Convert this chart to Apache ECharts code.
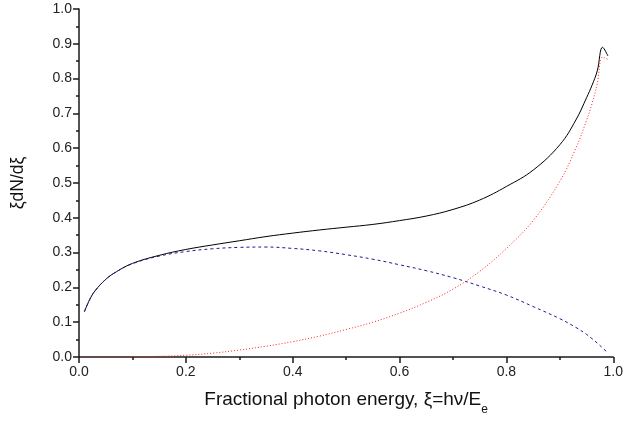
<!DOCTYPE html>
<html>
<head>
<meta charset="utf-8">
<script src="https://cdn.jsdelivr.net/npm/echarts@6/dist/echarts.min.js"></script>
<style>
  html, body { margin: 0; padding: 0; background: #fff; }
  #chart { width: 626px; height: 425px; }
</style>
</head>
<body>
<div id="chart"></div>
<script>
// Fractional photon energy grid
const xi = [0.01, 0.02, 0.03, 0.05, 0.07, 0.10, 0.15, 0.20, 0.25, 0.30, 0.35, 0.40, 0.45, 0.50,
            0.55, 0.60, 0.65, 0.70, 0.75, 0.80, 0.85, 0.90, 0.93, 0.95, 0.96, 0.97, 0.98, 0.99];

// Total spectrum (solid black)
const total = [0.130, 0.165, 0.190, 0.223, 0.245, 0.269, 0.292, 0.309, 0.322, 0.334, 0.346, 0.356, 0.365, 0.373,
               0.381, 0.392, 0.405, 0.424, 0.451, 0.490, 0.537, 0.610, 0.681, 0.745, 0.780, 0.822, 0.890, 0.865];

// First component (dashed navy)
const partA = [0.130, 0.165, 0.190, 0.223, 0.245, 0.268, 0.290, 0.303, 0.311, 0.315, 0.316, 0.312, 0.305, 0.294,
               0.281, 0.265, 0.248, 0.228, 0.204, 0.178, 0.145, 0.110, 0.085, 0.065, 0.053, 0.040, 0.026, 0.012];

// Second component (dotted red)
const partB = [0.000, 0.000, 0.000, 0.000, 0.000, 0.001, 0.002, 0.005, 0.011, 0.020, 0.031, 0.044, 0.060, 0.079,
               0.100, 0.126, 0.157, 0.195, 0.246, 0.312, 0.392, 0.505, 0.600, 0.680, 0.727, 0.785, 0.862, 0.855];

const xTicks = ['0.0', '0.2', '0.4', '0.6', '0.8', '1.0'];

const pairs = (ys) => xi.map((x, i) => [x, ys[i]]);

const axisCommon = {
  axisLine: { show: true, lineStyle: { color: '#1a1a1a', width: 1.5 } },
  axisTick: { show: true, inside: false, length: 6, lineStyle: { color: '#1a1a1a', width: 1.5 } },
  minorTick: { show: true, splitNumber: 2, length: 3, lineStyle: { color: '#1a1a1a', width: 1.5 } },
  splitLine: { show: false },
  minorSplitLine: { show: false }
};

const chart = echarts.init(document.getElementById('chart'), null, { renderer: 'canvas' });
chart.setOption({
  animation: false,
  backgroundColor: '#ffffff',
  textStyle: { fontFamily: 'Liberation Sans, Arial, sans-serif' },
  grid: { left: 79, right: 7, top: 9, bottom: 68, containLabel: false },
  xAxis: Object.assign({
    type: 'value', min: 0, max: 1, interval: 0.2,
    axisLabel: { fontSize: 14, color: '#222', margin: 8,
                 formatter: (v) => xTicks[Math.round(v / 0.2)] },
    name: '{m|Fractional photon energy, ξ=hν/E}{s|e}',
    nameLocation: 'middle', nameGap: 33,
    nameTextStyle: {
      rich: {
        m: { fontSize: 19, color: '#111', lineHeight: 26, verticalAlign: 'top', fontFamily: 'Liberation Sans, Arial, sans-serif' },
        s: { fontSize: 12, color: '#111', lineHeight: 10, verticalAlign: 'bottom', fontFamily: 'Liberation Sans, Arial, sans-serif' }
      }
    }
  }, axisCommon),
  yAxis: Object.assign({
    type: 'value', min: 0, max: 1, interval: 0.1,
    axisLabel: { fontSize: 14, color: '#222', margin: 7, formatter: (v) => v.toFixed(1) },
    name: 'ξdN/dξ', nameLocation: 'middle', nameGap: 52, nameRotate: 90,
    nameTextStyle: { fontSize: 17.5, color: '#111' }
  }, axisCommon),
  series: [
    { type: 'line', data: pairs(total), showSymbol: false, smooth: 0.4,
      lineStyle: { color: '#000000', width: 1, type: 'solid' } },
    { type: 'line', data: pairs(partA), showSymbol: false, smooth: 0.4,
      lineStyle: { color: '#1c1c8c', width: 1, type: [3, 3] } },
    { type: 'line', data: pairs(partB), showSymbol: false, smooth: 0.4,
      lineStyle: { color: '#ff2020', width: 1, type: [1, 2] } }
  ]
});
</script>
</body>
</html>
